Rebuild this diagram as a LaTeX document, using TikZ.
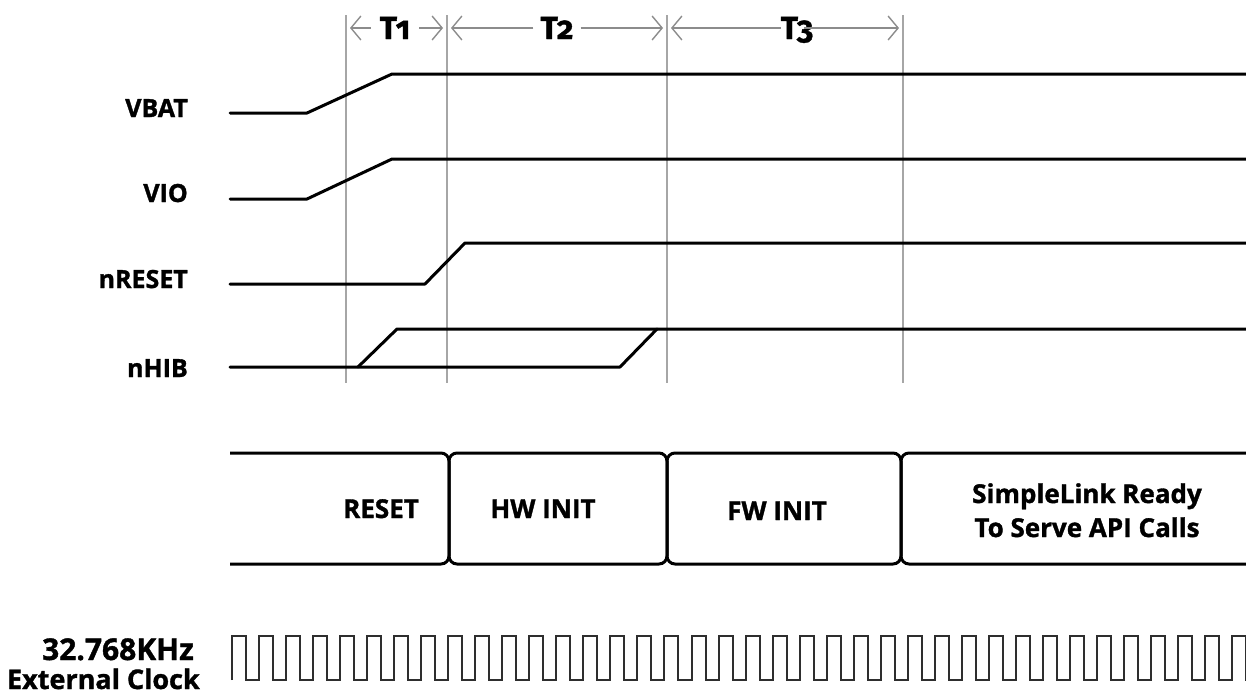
\documentclass[tikz,border=0pt]{standalone}
\usepackage{fontspec}
\setmainfont{Open Sans}[BoldFeatures={FakeBold=1.3}]
\newfontfamily\tfont{Fira Sans}[Numbers=OldStyle, BoldFeatures={FakeBold=1.3}]
\usepackage{tikz}
\usetikzlibrary{positioning,arrows.meta,calc}
\definecolor{guidegrey}{HTML}{A6A6A6}
\definecolor{dimgrey}{HTML}{8C8C8C}
\definecolor{clkgrey}{HTML}{2E2E2E}

\begin{document}
\begin{tikzpicture}[x=1pt, y=-1pt,
  every node/.append style={font=\bfseries, inner sep=0pt},
  sig/.style={line width=3pt, line join=round, line cap=round},
  guide/.style={draw=guidegrey, line width=2pt},
  dim/.style={draw=dimgrey, line width=1.4pt, -{Straight Barb[length=10pt,width=24pt]}},
  phase/.style={line width=3pt, rounded corners=8pt},
  clk/.style={draw=clkgrey, line width=2pt},
  siglabel/.style={font=\fontsize{25}{28}\selectfont\bfseries, anchor=base east},
  statelabel/.style={font=\fontsize{26}{30}\selectfont\bfseries, anchor=base},
  tlabel/.style={font=\tfont\fontsize{32}{34}\selectfont\bfseries, text height=22pt, text depth=0pt}
]
\useasboundingbox (0,0) rectangle (1246,696);

\foreach \n/\gx in {1/346, 2/447, 3/667, 4/903} {
  \coordinate (m\n) at (\gx,28);
  \draw[guide] (\gx,15) -- (\gx,383);
}

\node[tlabel, fill=white, inner xsep=9pt] (t1) at (395,28) {T1};
\node[tlabel, fill=white, inner xsep=7pt] (t2) at (557,28) {T2};
\node[tlabel] (t3) at (797,28) {T3};
\draw[dim] (t1) -- ([xshift=4pt]m1);
\draw[dim] (t1) -- ([xshift=-4pt]m2);
\draw[dim] (t2) -- ([xshift=4pt]m2);
\draw[dim] (t2) -- ([xshift=-4pt]m3);
\draw[dim] (t3.west) -- ([xshift=4pt]m3);
\draw[dim] ([xshift=-9pt]t3.east) -- ([xshift=-4pt]m4);

\foreach \nm/\txt/\lo/\hi/\xa/\xb/\by in {vbat/VBAT/113/74/307/392/117,
    vio/VIO/199/159/307/392/202, nreset/nRESET/284/243/425/465/288} {
  \node[siglabel] (\nm) at (188,\by) {\txt};
  \draw[sig] (230,\lo) -- (\xa,\lo) -- (\xb,\hi) -- (1252,\hi);
}
\node[siglabel] (nhib) at (188,377) {nHIB};
\draw[sig] (230,367) -- (620,367) -- (657,329);
\draw[sig] (358,367) -- (397,329) -- (1252,329);

\draw[phase] (230,453) -- (449,453) -- (449,564) -- (230,564);
\draw[phase] (449,453) rectangle (667,564);
\draw[phase] (667,453) rectangle (901,564);
\draw[phase] (1262,453) -- (901,453) -- (901,564) -- (1262,564);
\node[statelabel] (reset) at (381,518) {RESET};
\node[statelabel] (hwinit) at (543,518) {HW INIT};
\node[statelabel] (fwinit) at (777,520) {FW INIT};
\node[statelabel] (ready) at (1087,503) {SimpleLink Ready};
\node[statelabel] (serve) at (1087,537) {To Serve API Calls};

\draw[clk] (232,680) \foreach \k in {0,...,37} { -- ++(0,-44) -- ++(14,0) -- ++(0,44) -- ++(13.03,0) };
\node[font=\fontsize{30}{34}\selectfont\bfseries, anchor=base east] (khz) at (194,660) {32.768KHz};
\node[font=\fontsize{27}{30}\selectfont\bfseries, anchor=base east] (extclk) at (200,689) {External Clock};
\end{tikzpicture}
\end{document}
